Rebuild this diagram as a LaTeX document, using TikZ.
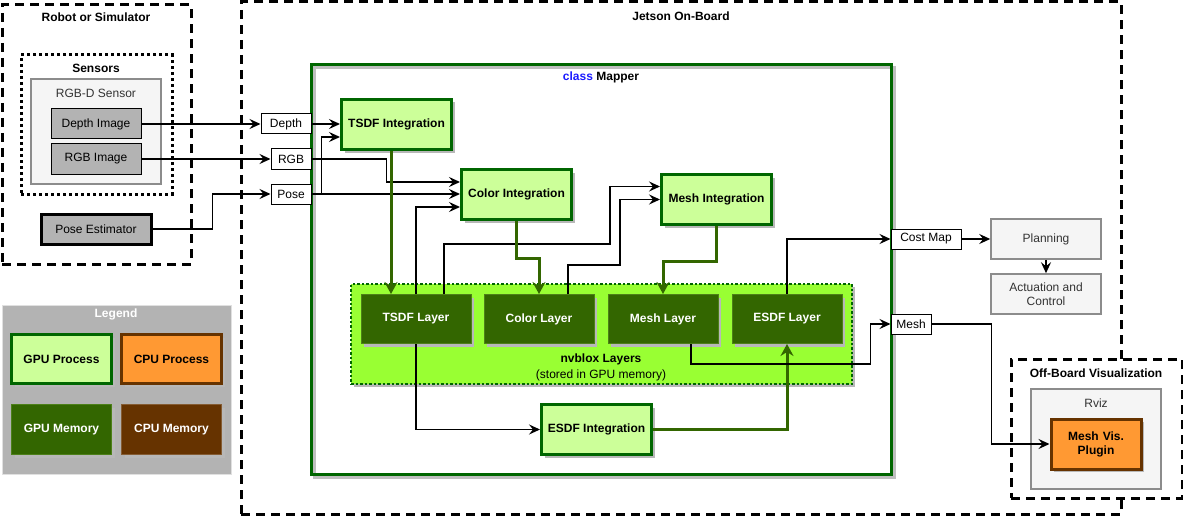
\documentclass[tikz,border=0pt]{standalone}
\usepackage{fontspec}
\setmainfont{Liberation Sans}
\usepackage{tikz}
\usetikzlibrary{arrows.meta,positioning,calc,shadows}
\usepackage{xcolor}
\definecolor{gpufill}{HTML}{CCFF99}
\definecolor{gpuline}{HTML}{006600}
\definecolor{cpufill}{HTML}{FF9933}
\definecolor{cpuline}{HTML}{663300}
\definecolor{memfill}{HTML}{336600}
\definecolor{memline}{HTML}{4D8019}
\definecolor{layerfill}{HTML}{99FF33}
\definecolor{grayfill}{HTML}{F5F5F5}
\definecolor{grayline}{HTML}{8C8C8C}
\definecolor{graytext}{HTML}{333333}
\definecolor{imgfill}{HTML}{B3B3B3}
\definecolor{edgegreen}{HTML}{336600}
\definecolor{classblue}{HTML}{1A1AFF}

\begin{document}
\begin{tikzpicture}[x=1pt,y=-1pt,font=\fontsize{12}{14}\selectfont,
  txt/.style={font=\fontsize{12}{14}\selectfont},
  bold/.style={font=\fontsize{12}{14}\selectfont\bfseries},
  shade/.style={drop shadow={shadow xshift=3pt,shadow yshift=-3pt,fill=black!28,opacity=1}},
  dashbox/.style={draw,line width=3pt,dash pattern=on 9pt off 6pt,fill=white},
  dotbox/.style={draw,line width=3pt,dash pattern=on 3pt off 3pt},
  graybox/.style={draw=grayline,fill=grayfill,line width=1.5pt,text=graytext,align=center},
  imgbox/.style={draw,fill=imgfill,line width=1pt},
  lbl/.style={draw,fill=white,line width=1pt,inner sep=0pt,minimum height=20pt},
  gpuproc/.style={draw=gpuline,fill=gpufill,line width=3pt,bold,shade},
  cpuproc/.style={draw=cpuline,fill=cpufill,line width=3pt,bold,shade,align=center},
  gpumem/.style={draw=memline,fill=memfill,line width=1pt,text=white,bold,shade},
  cpumem/.style={draw=cpuline!80,fill=cpuline,line width=1pt,text=white,bold,shade},
  arr/.style={-{Stealth[length=11pt,width=10pt,inset=4pt]},line width=1.8pt},
  garr/.style={-{Stealth[length=12pt,width=13pt,inset=4pt]},draw=edgegreen,line width=3pt}]
\useasboundingbox (0,0) rectangle (1183,516);

% containers
\node[dashbox,minimum width=880pt,minimum height=512pt] (jetson) at (681,258) {};
\node[bold,anchor=north] (jetsonT) at (681,8) {Jetson On-Board};
\node[dashbox,minimum width=189pt,minimum height=259pt] (robot) at (96.5,134.5) {};
\node[bold] (robotT) at (96,17) {Robot or Simulator};
\node[dotbox,minimum width=151pt,minimum height=139pt] (sensors) at (96.5,124.5) {};
\node[bold] (sensorsT) at (96,68) {Sensors};
\node[graybox,minimum width=130pt,minimum height=105pt] (rgbd) at (96,131.5) {};
\node[txt,text=graytext] (rgbdT) at (96,93) {RGB-D Sensor};

% sensors
\node[imgbox,minimum width=90pt,minimum height=30pt] (depthImg) at (96,124) {Depth Image};
\node[imgbox,minimum width=90pt,minimum height=30pt] (rgbImg) at (96,159) {RGB Image};
\node[imgbox,line width=3pt,minimum width=110pt,minimum height=30pt] (poseEst) at (96,229) {Pose Estimator};

% legend
\node[draw=black!12,fill=imgfill,line width=1pt,minimum width=229pt,minimum height=169pt] (legend) at (116.5,389.5) {};
\node[bold,text=white] (legendT) at (116,314) {Legend};
\node[gpuproc,minimum width=100pt,minimum height=49pt] (gpuP) at (61.5,359) {GPU Process};
\node[cpuproc,minimum width=100pt,minimum height=49pt] (cpuP) at (171.5,359) {CPU Process};
\node[gpumem,minimum width=100pt,minimum height=50pt] (gpuM) at (61.5,429.5) {GPU Memory};
\node[cpumem,minimum width=100pt,minimum height=50pt] (cpuM) at (171.5,429.5) {CPU Memory};

% mapper
\draw[black!25,line width=3pt] (314,68) rectangle (894,477);
\node[draw=gpuline,line width=3pt,minimum width=580pt,minimum height=409pt] (mapper) at (601,269.5) {};
\node[bold] (mapperT) at (601,77) {\textcolor{classblue}{class} Mapper};

\node[lbl,minimum width=50pt] (depthLbl) at (286,124) {Depth};
\node[lbl,minimum width=40pt] (rgbLbl) at (291,159) {RGB};
\node[lbl,minimum width=40pt] (poseLbl) at (291,194) {Pose};

\node[gpuproc,minimum width=110pt,minimum height=50pt] (tsdfInt) at (396.5,124.5) {TSDF Integration};
\node[gpuproc,minimum width=110pt,minimum height=50pt] (colorInt) at (516.5,194.5) {Color Integration};
\node[gpuproc,minimum width=110pt,minimum height=50pt] (meshInt) at (716.5,199.5) {Mesh Integration};

\node[draw=gpuline,fill=layerfill,line width=2.5pt,dash pattern=on 2.5pt off 2pt,shade,
  minimum width=501pt,minimum height=100pt] (layers) at (601.5,334) {};
\node[bold] (layersT) at (601,359) {nvblox Layers};
\node[txt] (layersS) at (601,375) {(stored in GPU memory)};

\node[gpumem,minimum width=110pt,minimum height=49pt] (tsdfL) at (416,319) {TSDF Layer};
\node[gpumem,minimum width=110pt,minimum height=49pt] (colorL) at (539,319) {Color Layer};
\node[gpumem,minimum width=110pt,minimum height=49pt] (meshL) at (663,319) {Mesh Layer};
\node[gpumem,minimum width=110pt,minimum height=49pt] (esdfL) at (787,319) {ESDF Layer};

\node[gpuproc,minimum width=110pt,minimum height=50pt] (esdfInt) at (596.5,429.5) {ESDF Integration};

% outputs
\node[lbl,minimum width=70pt] (costLbl) at (926,239) {Cost Map};
\node[lbl,minimum width=40pt] (meshLbl) at (911,324) {Mesh};
\node[graybox,minimum width=110pt,minimum height=40pt] (planning) at (1046,239) {Planning};
\node[graybox,minimum width=110pt,minimum height=40pt] (actuation) at (1046,294) {Actuation and\\Control};

\node[dashbox,minimum width=171pt,minimum height=139pt] (offboard) at (1096.5,428.5) {};
\node[bold] (offboardT) at (1096,373) {Off-Board Visualization};
\node[graybox,minimum width=130pt,minimum height=100pt] (rviz) at (1096,439) {};
\node[txt,text=graytext] (rvizT) at (1096,403) {Rviz};
\node[cpuproc,minimum width=90pt,minimum height=50pt,text width=80pt] (meshVis) at (1096,444) {Mesh Vis.\\Plugin};

% inputs
\draw[arr] (depthImg.east) -- (depthLbl.west);
\draw[arr] (rgbImg.east) -- (rgbLbl.west);
\draw[arr] (poseEst.east) -- ++(60,0) |- (poseLbl.west);
\draw[arr] (depthLbl.east) -- (depthLbl.east -| tsdfInt.west);
\draw[arr] (poseLbl.east) -- ++(10,0) |- ([yshift=-12.5pt]tsdfInt.west);
\draw[arr] (poseLbl.east) -- (poseLbl.east -| colorInt.west);
\draw[arr] (rgbLbl.east) -- ++(75,0) |- ([yshift=12.5pt]colorInt.west);

% layer reads
\draw[arr] (tsdfL.north) |- ([yshift=-12.5pt]colorInt.west);
\draw[arr] ([xshift=28pt]tsdfL.north) -- ++(0,-50) -| ([xshift=-50pt,yshift=13pt]meshInt.west) -- ([yshift=13pt]meshInt.west);
\draw[arr] ([xshift=29pt]colorL.north) -- ++(0,-29) -| ([xshift=-40pt]meshInt.west) -- (meshInt.west);

% layer writes
\draw[garr] ([xshift=-5.5pt]tsdfInt.south) -- ([xshift=-5.5pt]tsdfInt.south |- tsdfL.north);
\draw[garr] (colorInt.south) -- ++(0,37) -| (colorL.north);
\draw[garr] (meshInt.south) -- ++(0,35) -| (meshL.north);
\draw[arr] (tsdfL.south) |- (esdfInt.west);
\draw[garr] (esdfInt.east) -| (esdfL.south);

% outputs
\draw[arr] (esdfL.north) |- (costLbl.west);
\draw[arr] ([xshift=28pt]meshL.south) -- ++(0,20) -| ([xshift=-20pt]meshLbl.west) -- (meshLbl.west);
\draw[arr] (costLbl.east) -- (planning.west);
\draw[arr] (planning.south) -- (actuation.north);
\draw[arr] (meshLbl.east) -- ++(60,0) |- (meshVis.west);
\end{tikzpicture}
\end{document}
